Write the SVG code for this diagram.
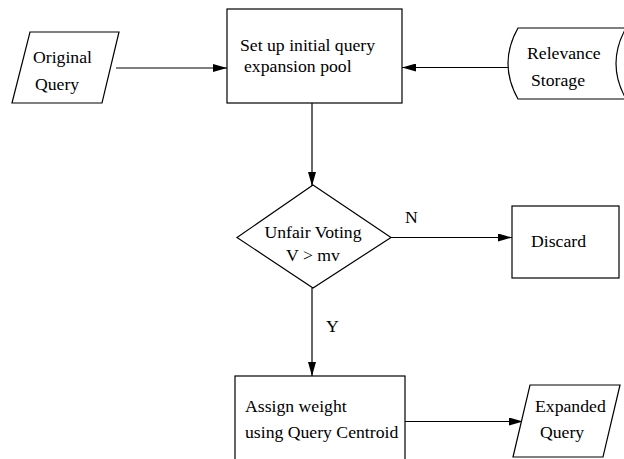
<svg xmlns="http://www.w3.org/2000/svg" width="624" height="459" viewBox="0 0 624 459" font-family="Liberation Serif, Times New Roman, DejaVu Serif, serif" font-size="17.7">
<defs>
<marker id="arr" viewBox="0 0 14 8" refX="14" refY="4" markerWidth="14" markerHeight="8" markerUnits="userSpaceOnUse" orient="auto">
<path d="M0,0 L14,4 L0,8 Z" fill="#000"/>
</marker>
</defs>
<style>
.s{fill:#fff;stroke:#000;stroke-width:1.2}
.c{fill:none;stroke:#000;stroke-width:1.2;marker-end:url(#arr)}
.t{font-family:'Liberation Serif','Times New Roman','DejaVu Serif',serif;font-size:17.7px;fill:#000}
</style>
<rect width="624" height="459" fill="#fff"/>
<g id="connectors">
<line class="c" x1="116" y1="68" x2="227" y2="68"/>
<line class="c" x1="508" y1="67.5" x2="402" y2="67.5"/>
<line class="c" x1="312" y1="103" x2="312" y2="186"/>
<line class="c" x1="391" y1="237.5" x2="512" y2="237.5"/>
<line class="c" x1="312" y1="288" x2="312" y2="376"/>
<line class="c" x1="405" y1="421.5" x2="523" y2="421.5"/>
<text class="t" x="405" y="223">N</text>
<text class="t" x="326" y="332">Y</text>
</g>
<g id="original-query">
<polygon class="s" points="30,32 119,32 102,103 12,103"/>
<text class="t" x="33" y="63">Original</text>
<text class="t" x="35" y="90">Query</text>
</g>
<g id="setup-pool">
<rect class="s" x="227" y="9" width="175" height="94"/>
<text class="t" x="240" y="50.5">Set up initial query</text>
<text class="t" x="244" y="72">expansion pool</text>
</g>
<g id="relevance-storage">
<path class="s" d="M518,28 L626,28 Q606,63.5 626,99 L518,99 Q498,63.5 518,28 Z"/>
<text class="t" x="527" y="59">Relevance</text>
<text class="t" x="531" y="86">Storage</text>
</g>
<g id="unfair-voting">
<polygon class="s" points="313,185 391,237.5 313,288 237,237.5"/>
<text class="t" x="313" y="238" text-anchor="middle">Unfair Voting</text>
<text class="t" x="313" y="261" text-anchor="middle">V &gt; mv</text>
</g>
<g id="discard">
<rect class="s" x="512" y="206" width="107" height="72"/>
<text class="t" x="531" y="247">Discard</text>
</g>
<g id="assign-weight">
<rect class="s" x="235" y="376" width="170" height="90"/>
<text class="t" x="245" y="412">Assign weight</text>
<text class="t" x="245" y="438">using Query Centroid</text>
</g>
<g id="expanded-query">
<polygon class="s" points="530,385 620,385 603,457 513,457"/>
<text class="t" x="535" y="412">Expanded</text>
<text class="t" x="540" y="438">Query</text>
</g>
</svg>
